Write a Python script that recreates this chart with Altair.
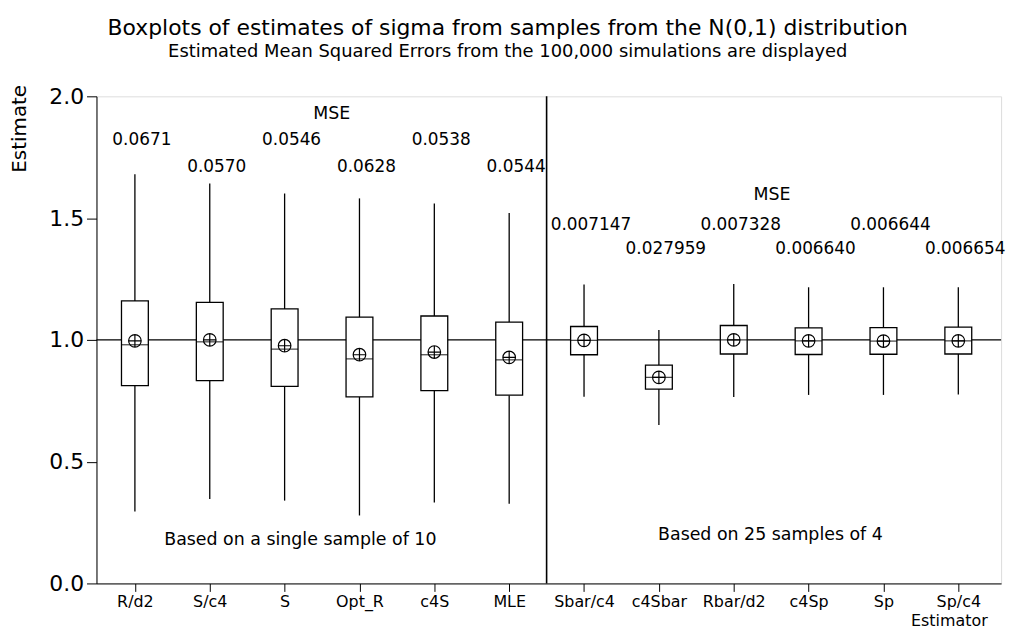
import altair as alt
import pandas as pd

# ---------------- data ----------------
categories = ["R/d2", "S/c4", "S", "Opt_R", "c4S", "MLE",
              "Sbar/c4", "c4Sbar", "Rbar/d2", "c4Sp", "Sp", "Sp/c4"]
whisker_low = [0.295, 0.347, 0.340, 0.279, 0.332, 0.327,
               0.767, 0.651, 0.765, 0.774, 0.774, 0.776]
q1 = [0.812, 0.833, 0.809, 0.766, 0.792, 0.773,
      0.939, 0.798, 0.942, 0.940, 0.941, 0.942]
median = [0.980, 0.992, 0.962, 0.922, 0.939, 0.918,
          0.998, 0.846, 1.000, 0.996, 0.995, 0.996]
q3 = [1.160, 1.154, 1.127, 1.093, 1.098, 1.073,
      1.055, 0.896, 1.059, 1.049, 1.050, 1.052]
whisker_high = [1.680, 1.642, 1.601, 1.581, 1.560, 1.521,
                1.227, 1.041, 1.229, 1.216, 1.216, 1.216]
mean = [0.996, 1.000, 0.976, 0.939, 0.950, 0.928,
        0.998, 0.846, 1.000, 0.996, 0.995, 0.996]
mse_labels = ["0.0671", "0.0570", "0.0546", "0.0628", "0.0538", "0.0544",
              "0.007147", "0.027959", "0.007328", "0.006640", "0.006644", "0.006654"]
mse_label_y = [1.820, 1.710, 1.820, 1.710, 1.820, 1.710,
               1.473, 1.371, 1.473, 1.371, 1.473, 1.371]

note_text = ["MSE", "MSE", "Based on a single sample of 10", "Based on 25 samples of 4"]
note_x = [2.63, 8.51, 2.21, 8.49]
note_y = [1.927, 1.596, 0.177, 0.200]

reference_value = [1.0]
group_split = [5.5]

title_text = "Boxplots of estimates of sigma from samples from the N(0,1) distribution"
subtitle_text = "Estimated Mean Squared Errors from the 100,000 simulations are displayed"

# ---------------- tables ----------------
idx = list(range(len(categories)))
box_df = pd.DataFrame({
    "i": idx, "cat": categories, "lo": whisker_low, "q1": q1, "med": median,
    "q3": q3, "hi": whisker_high, "mean": mean,
    "mse": mse_labels, "mse_y": mse_label_y,
})
note_df = pd.DataFrame({"text": note_text, "x": note_x, "y": note_y})
ref_df = pd.DataFrame({"v": reference_value})
split_df = pd.DataFrame({"v": group_split})

FONT = "DejaVu Sans"
labels_js = "[" + ",".join("'" + c + "'" for c in categories) + "]"

xscale = alt.Scale(domain=[-0.447, 11.505], nice=False, zero=False)
yscale = alt.Scale(domain=[0, 2], nice=False, zero=True)

x_enc = alt.X("i:Q", scale=xscale, title="Estimator",
              axis=alt.Axis(values=idx, labelExpr=labels_js + "[datum.value]",
                            grid=False, tickSize=8, labelPadding=2,
                            labelFontSize=16, labelFont=FONT,
                            titleFont=FONT, titleFontSize=16, titleFontWeight="normal",
                            titleAnchor="end", titleAlign="right",
                            titleX=896, titleY=37, titleBaseline="middle",
                            domainColor="black", tickColor="black",
                            labelColor="black", titleColor="black"))
y_axis = alt.Axis(values=[0, 0.5, 1.0, 1.5, 2.0], format=".1f", grid=False,
                  tickSize=10, labelPadding=3, labelFontSize=22, labelFont=FONT,
                  titleFont=FONT, titleFontSize=20, titleFontWeight="normal",
                  titleAngle=-90, titleX=-77, titleY=-12, titleAlign="right",
                  titleBaseline="middle",
                  domainColor="black", tickColor="black",
                  labelColor="black", titleColor="black")

base = alt.Chart(box_df)

ref_line = alt.Chart(ref_df).mark_rule(color="black", strokeWidth=1.3).encode(
    y=alt.Y("v:Q", scale=yscale, axis=y_axis, title="Estimate"))
split_line = alt.Chart(split_df).mark_rule(color="black", strokeWidth=1.6).encode(
    x=alt.X("v:Q", scale=xscale))

whisk_lo = base.mark_rule(color="black", strokeWidth=1.3).encode(
    x=x_enc, y=alt.Y("lo:Q", scale=yscale), y2="q1:Q")
whisk_hi = base.mark_rule(color="black", strokeWidth=1.3).encode(
    x=alt.X("i:Q", scale=xscale), y=alt.Y("q3:Q", scale=yscale), y2="hi:Q")
boxes = base.mark_bar(size=27, fill="white", stroke="black", strokeWidth=1.3).encode(
    x=alt.X("i:Q", scale=xscale), y=alt.Y("q1:Q", scale=yscale), y2="q3:Q")
medians = base.mark_tick(orient="horizontal", size=27, thickness=1.3, color="black").encode(
    x=alt.X("i:Q", scale=xscale), y=alt.Y("med:Q", scale=yscale))
means = base.mark_point(
    shape="M-1,0A1,1,0,1,1,1,0A1,1,0,1,1,-1,0ZM-1,0L1,0M0,-1L0,1",
    size=160, filled=False, stroke="black", strokeWidth=1.2, opacity=1).encode(
    x=alt.X("i:Q", scale=xscale), y=alt.Y("mean:Q", scale=yscale))
mse_text = base.mark_text(font=FONT, fontSize=17, color="black", dx=7,
                          baseline="middle", align="center").encode(
    x=alt.X("i:Q", scale=xscale), y=alt.Y("mse_y:Q", scale=yscale), text="mse:N")
notes = alt.Chart(note_df).mark_text(font=FONT, fontSize=17.5, color="black",
                                     baseline="middle", align="center").encode(
    x=alt.X("x:Q", scale=xscale), y=alt.Y("y:Q", scale=yscale), text="text:N")

chart = alt.layer(
    ref_line, split_line, whisk_lo, whisk_hi, boxes, medians, means, mse_text, notes
).properties(
    width=910, height=490,
    title=alt.TitleParams(text=title_text, subtitle=subtitle_text,
                          anchor="middle", frame="bounds", offset=23,
                          font=FONT, fontSize=22, fontWeight="normal", color="black",
                          subtitleFont=FONT, subtitleFontSize=18, subtitleColor="black",
                          subtitlePadding=3),
    autosize=alt.AutoSizeParams(type="none"),
    padding={"left": 89, "top": 87, "right": 14, "bottom": 46},
).configure_view(stroke="black", strokeWidth=1.5
).configure(background="white")

chart.save("out.html", embed_options={"renderer": "svg", "actions": False})
